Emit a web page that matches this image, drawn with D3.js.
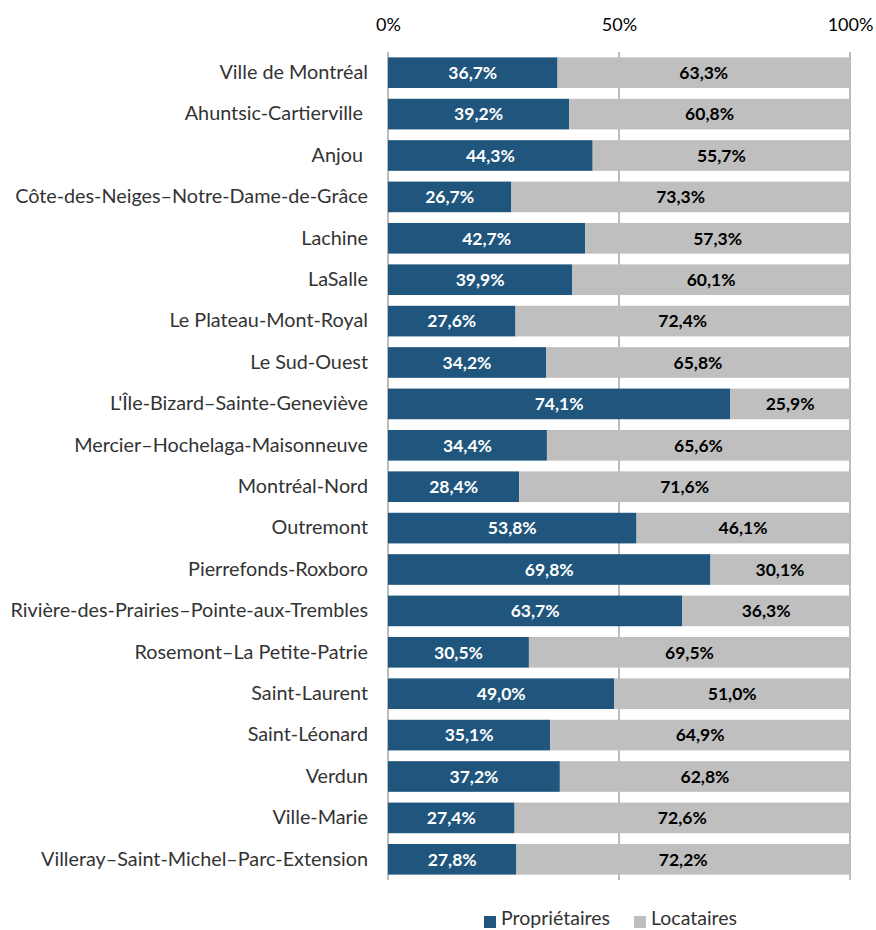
<!DOCTYPE html>
<html>
<head>
<meta charset="utf-8">
<script src="https://cdn.jsdelivr.net/npm/d3@7"></script>
<style>
  body { margin: 0; background: white; }
  text { white-space: pre; }
</style>
</head>
<body>
<div id="chart"></div>
<script>
const width = 876;
const height = 930;
const margin = {top: 52, right: 26, bottom: 50, left: 388};
const colors = ["#20567D", "#BFBFBF"];
const font = "Lato";

const categories = [
  "Ville de Montréal",
  "Ahuntsic-Cartierville ",
  "Anjou ",
  "Côte-des-Neiges–Notre-Dame-de-Grâce",
  "Lachine",
  "LaSalle",
  "Le Plateau-Mont-Royal",
  "Le Sud-Ouest",
  "L'Île-Bizard–Sainte-Geneviève",
  "Mercier–Hochelaga-Maisonneuve",
  "Montréal-Nord",
  "Outremont",
  "Pierrefonds-Roxboro",
  "Rivière-des-Prairies–Pointe-aux-Trembles",
  "Rosemont–La Petite-Patrie",
  "Saint-Laurent",
  "Saint-Léonard",
  "Verdun",
  "Ville-Marie",
  "Villeray–Saint-Michel–Parc-Extension"
];
const proprietaires = [36.7, 39.2, 44.3, 26.7, 42.7, 39.9, 27.6, 34.2, 74.1, 34.4,
                       28.4, 53.8, 69.8, 63.7, 30.5, 49.0, 35.1, 37.2, 27.4, 27.8];
const locataires = [63.3, 60.8, 55.7, 73.3, 57.3, 60.1, 72.4, 65.8, 25.9, 65.6,
                    71.6, 46.1, 30.1, 36.3, 69.5, 51.0, 64.9, 62.8, 72.6, 72.2];
const seriesNames = ["Propriétaires", "Locataires"];
const tickValues = [0, 50, 100];

const fmt = v => v.toFixed(1).replace(".", ",") + "%";

const svg = d3.select("#chart")
  .append("svg")
  .attr("width", width)
  .attr("height", height)
  .style("background", "white");

const x = d3.scaleLinear()
  .domain([0, 100])
  .range([margin.left, width - margin.right]);

const y = d3.scaleBand()
  .domain(categories)
  .range([margin.top, 880])
  .paddingInner(0.26)
  .paddingOuter(0.13);

// gridlines behind bars
svg.append("g")
  .selectAll("line")
  .data(tickValues)
  .enter()
  .append("line")
  .attr("x1", d => x(d))
  .attr("x2", d => x(d))
  .attr("y1", margin.top)
  .attr("y2", 880)
  .attr("stroke", "#A6A6A6")
  .attr("stroke-width", 1.5);

// top axis labels
const xAxis = svg.append("g")
  .attr("transform", `translate(0,${margin.top})`)
  .call(d3.axisTop(x).tickValues(tickValues).tickFormat(d => d + "%").tickSize(0).tickPadding(21));
xAxis.select(".domain").remove();
xAxis.selectAll("text")
  .style("font-family", font)
  .style("font-size", "18px")
  .attr("fill", "#000");

const data = categories.map((c, i) => ({name: c, p: proprietaires[i], l: locataires[i]}));

const rows = svg.append("g")
  .selectAll("g")
  .data(data)
  .enter()
  .append("g")
  .attr("transform", d => `translate(0,${y(d.name)})`);

rows.append("rect")
  .attr("x", x(0))
  .attr("y", 0)
  .attr("width", d => x(d.p) - x(0))
  .attr("height", y.bandwidth())
  .attr("fill", colors[0]);

rows.append("rect")
  .attr("x", d => x(d.p))
  .attr("y", 0)
  .attr("width", d => x(d.p + d.l) - x(d.p))
  .attr("height", y.bandwidth())
  .attr("fill", colors[1]);

rows.append("text")
  .attr("x", d => (x(0) + x(d.p)) / 2)
  .attr("y", y.bandwidth() / 2)
  .attr("dy", "0.36em")
  .attr("text-anchor", "middle")
  .style("font-family", font)
  .style("font-size", "17.5px")
  .style("font-weight", "bold")
  .attr("fill", "white")
  .text(d => fmt(d.p));

rows.append("text")
  .attr("x", d => (x(d.p) + x(d.p + d.l)) / 2)
  .attr("y", y.bandwidth() / 2)
  .attr("dy", "0.36em")
  .attr("text-anchor", "middle")
  .style("font-family", font)
  .style("font-size", "17.5px")
  .style("font-weight", "bold")
  .attr("fill", "black")
  .text(d => fmt(d.l));

// category labels
const yAxis = svg.append("g")
  .attr("transform", `translate(${margin.left},0)`)
  .call(d3.axisLeft(y).tickSize(0).tickPadding(20));
yAxis.select(".domain").remove();
yAxis.selectAll("text")
  .style("font-family", font)
  .style("font-size", "19.8px")
  .attr("fill", "#333");

// legend
const legend = svg.append("g")
  .attr("transform", "translate(484,916)");
let lx = 0;
seriesNames.forEach((name, i) => {
  legend.append("rect")
    .attr("x", lx)
    .attr("y", 0)
    .attr("width", 12)
    .attr("height", 12)
    .attr("fill", colors[i]);
  const t = legend.append("text")
    .attr("x", lx + 17)
    .attr("y", 9)
    .style("font-family", font)
    .style("font-size", "19.5px")
    .attr("fill", "#333")
    .text(name);
  lx += 17 + t.node().getComputedTextLength() + 24;
});
</script>
</body>
</html>
